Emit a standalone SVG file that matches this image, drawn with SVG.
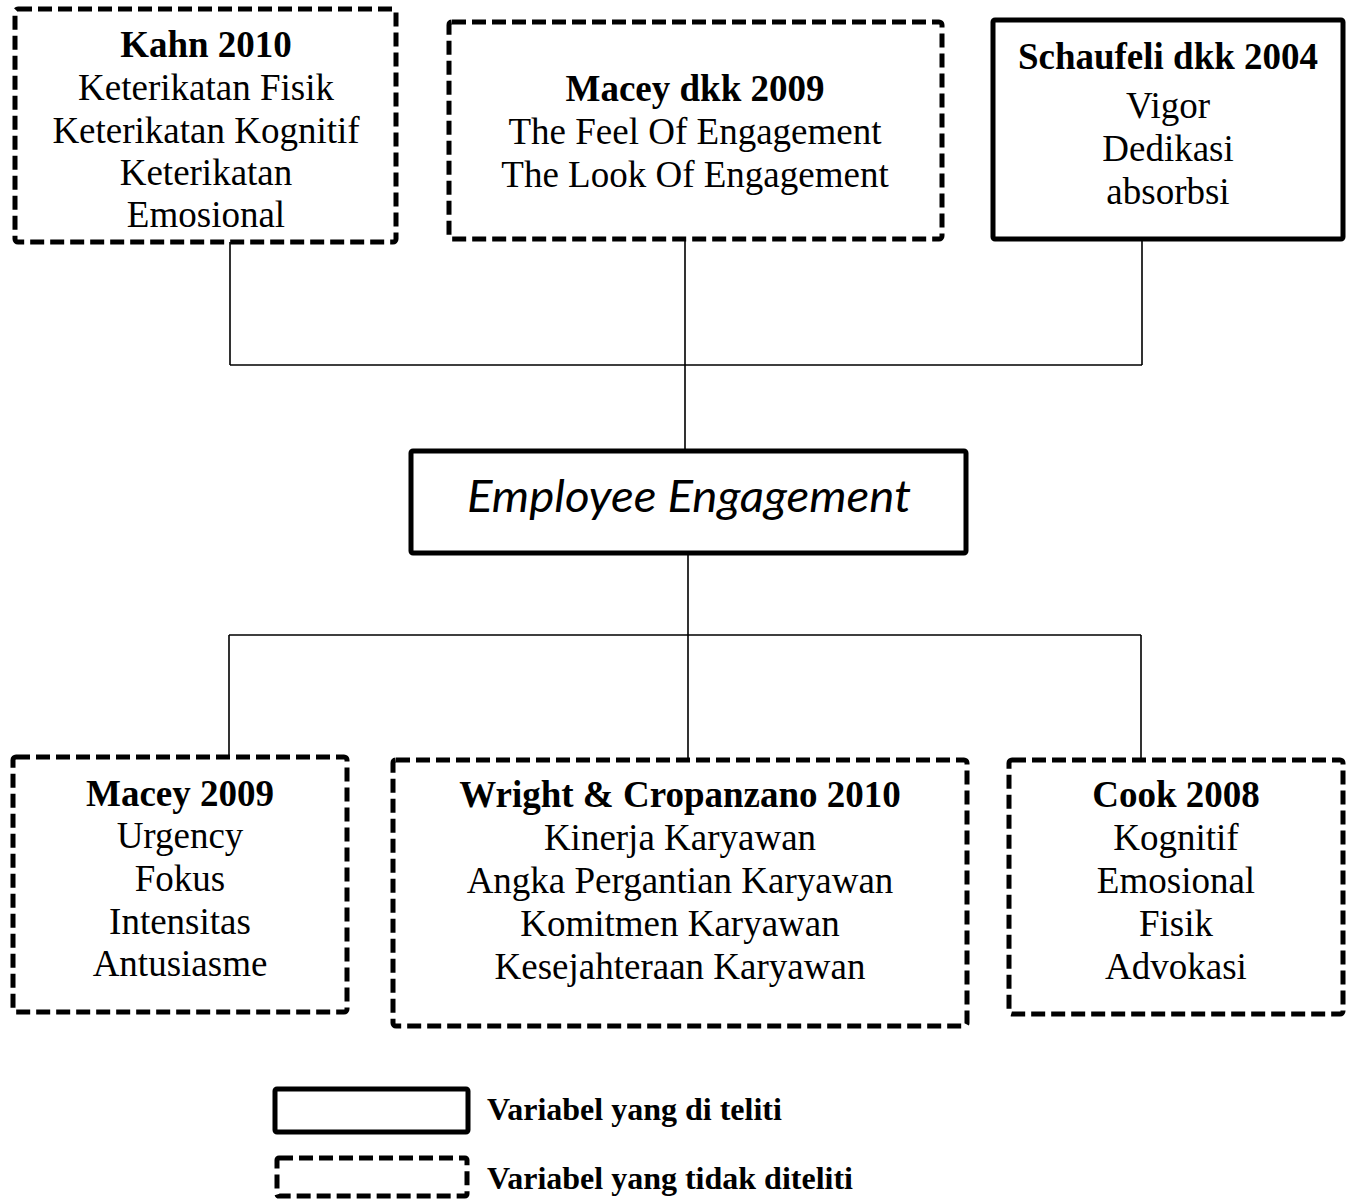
<svg xmlns="http://www.w3.org/2000/svg" width="1354" height="1200" viewBox="0 0 1354 1200">
<style>
.bg{fill:#fff}
.dash{fill:#fff;stroke:#000;stroke-width:5;stroke-dasharray:14 6}
.solid{fill:#fff;stroke:#000;stroke-width:5}
.conn{fill:none;stroke:#000;stroke-width:1.6}
text{font-family:"Liberation Serif","Times New Roman",serif;font-size:37px;fill:#000;text-anchor:middle}
.t{font-weight:bold}
.ee{font-family:Lato,"Open Sans",sans-serif;font-style:italic;font-size:44px}
.lg{font-weight:bold;font-size:32px;text-anchor:start}
</style>
<rect class="bg" x="0" y="0" width="1354" height="1200"/>
<g id="connectors">
<path class="conn" d="M230 242V365M685 239V451M1142 239V365M230 365H1142"/>
<path class="conn" d="M688 553V760M229 635H1141M229 635V757M1141 635V760"/>
</g>
<g id="kahn">
<rect class="dash" x="15" y="9" width="381" height="233" rx="3"/>
<text x="206" y="57" class="t">Kahn 2010</text>
<text x="206" y="100">Keterikatan Fisik</text>
<text x="206" y="143">Keterikatan Kognitif</text>
<text x="206" y="185">Keterikatan</text>
<text x="206" y="227">Emosional</text>
</g>
<g id="macey-dkk">
<rect class="dash" x="449" y="22" width="493" height="217" rx="3"/>
<text x="695" y="101" class="t">Macey dkk 2009</text>
<text x="695" y="144">The Feel Of Engagement</text>
<text x="695" y="187">The Look Of Engagement</text>
</g>
<g id="schaufeli">
<rect class="solid" x="993" y="20" width="350" height="219" rx="2"/>
<text x="1168" y="69" class="t">Schaufeli dkk 2004</text>
<text x="1168" y="118">Vigor</text>
<text x="1168" y="161">Dedikasi</text>
<text x="1168" y="204">absorbsi</text>
</g>
<g id="employee-engagement">
<rect class="solid" x="411" y="451" width="555" height="102" rx="2"/>
<text x="689" y="512" class="ee" textLength="444" lengthAdjust="spacingAndGlyphs">Employee Engagement</text>
</g>
<g id="macey-2009">
<rect class="dash" x="13" y="757" width="334" height="255" rx="3"/>
<text x="180" y="806" class="t">Macey 2009</text>
<text x="180" y="848">Urgency</text>
<text x="180" y="891">Fokus</text>
<text x="180" y="934">Intensitas</text>
<text x="180" y="976">Antusiasme</text>
</g>
<g id="wright">
<rect class="dash" x="393" y="760" width="574" height="266" rx="3"/>
<text x="680" y="807" class="t">Wright &amp; Cropanzano 2010</text>
<text x="680" y="850">Kinerja Karyawan</text>
<text x="680" y="893">Angka Pergantian Karyawan</text>
<text x="680" y="936">Komitmen Karyawan</text>
<text x="680" y="979">Kesejahteraan Karyawan</text>
</g>
<g id="cook">
<rect class="dash" x="1009" y="760" width="334" height="254" rx="3"/>
<text x="1176" y="807" class="t">Cook 2008</text>
<text x="1176" y="850">Kognitif</text>
<text x="1176" y="893">Emosional</text>
<text x="1176" y="936">Fisik</text>
<text x="1176" y="979">Advokasi</text>
</g>
<g id="legend-solid">
<rect class="solid" x="275" y="1089" width="193" height="43" rx="2"/>
<text x="487" y="1120" class="lg">Variabel yang di teliti</text>
</g>
<g id="legend-dashed">
<rect class="dash" x="277" y="1158" width="190" height="38" rx="2"/>
<text x="487" y="1189" class="lg">Variabel yang tidak diteliti</text>
</g>
</svg>
